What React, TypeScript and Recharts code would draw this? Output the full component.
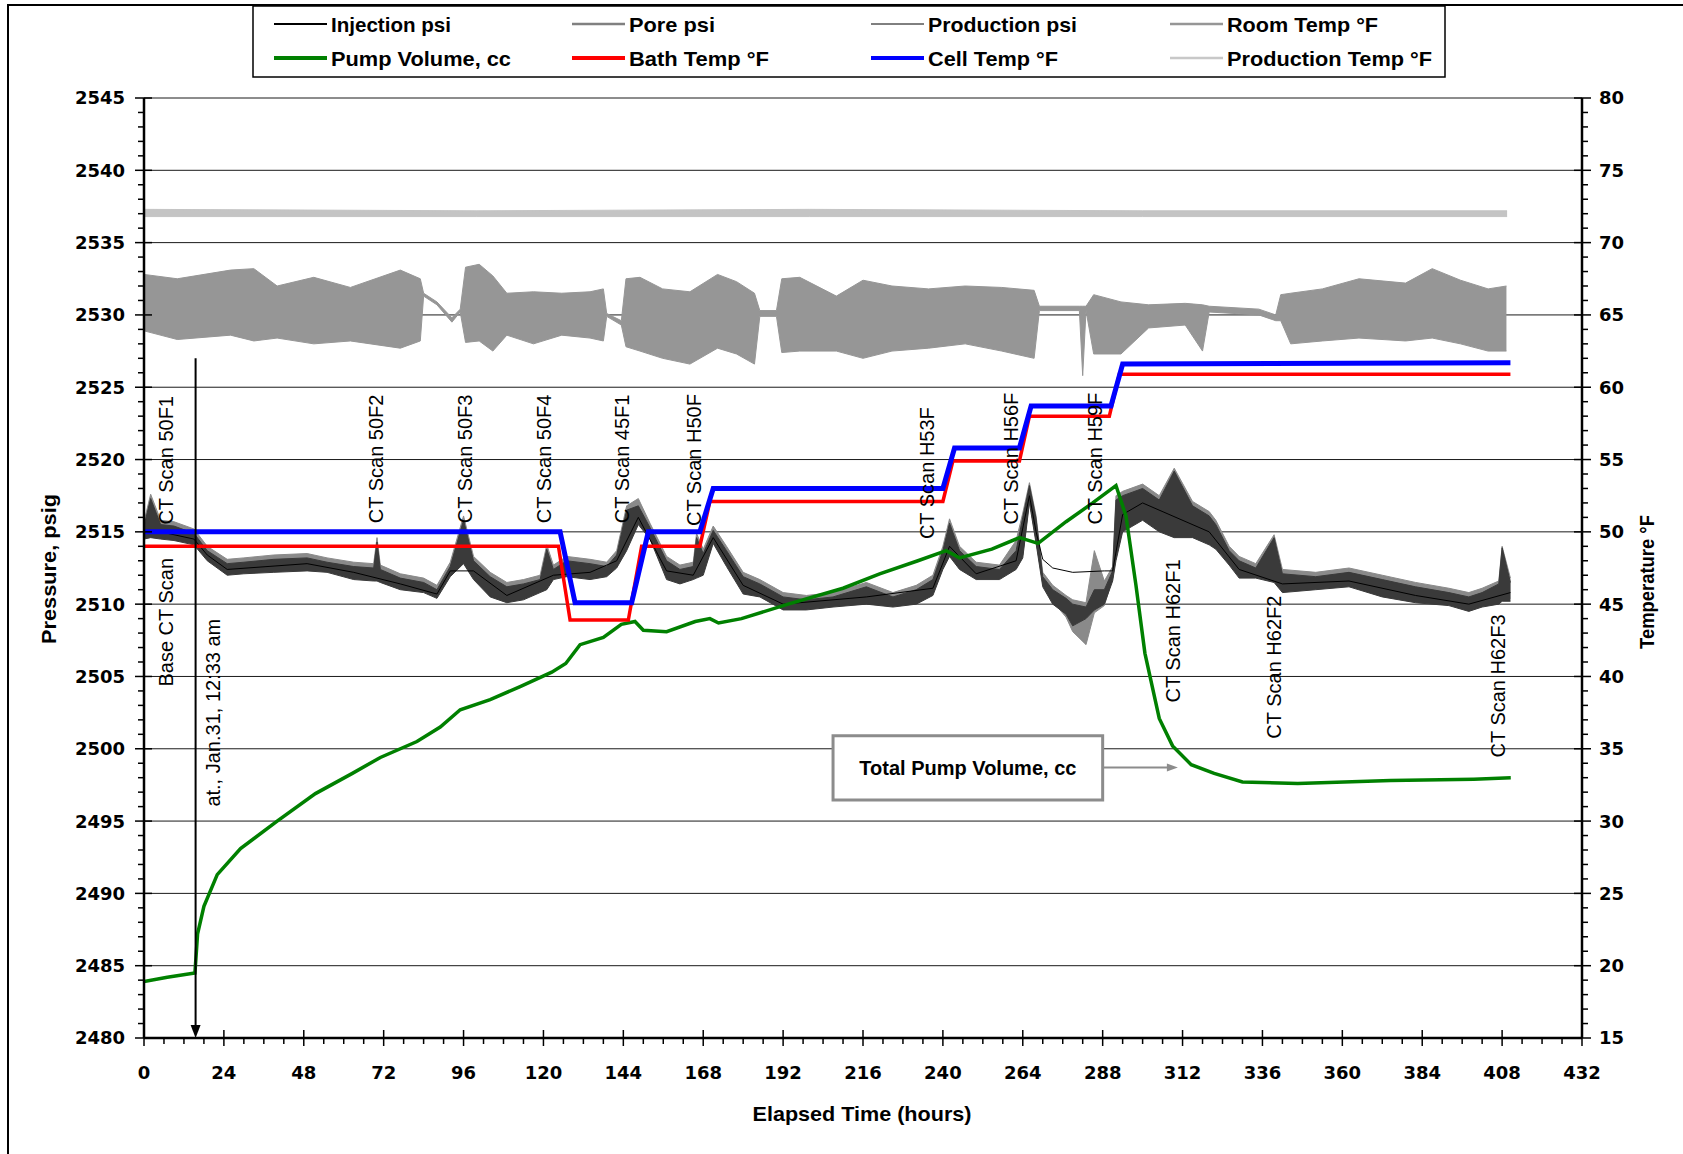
import React from "react";
import {
  ComposedChart,
  Line,
  Area,
  XAxis,
  YAxis,
  CartesianGrid,
  ReferenceLine,
  ReferenceDot,
  ReferenceArea,
} from "recharts";

// ---- axis ticks ----
const hourLabels = [0, 24, 48, 72, 96, 120, 144, 168, 192, 216, 240, 264, 288, 312, 336, 360, 384, 408, 432];
const psiLabels = [2480, 2485, 2490, 2495, 2500, 2505, 2510, 2515, 2520, 2525, 2530, 2535, 2540, 2545];
const tempLabels = [15, 20, 25, 30, 35, 40, 45, 50, 55, 60, 65, 70, 75, 80];
const hourTicks = Array.from({ length: 73 }, (_, i) => i * 6);
const psiTicks = Array.from({ length: 66 }, (_, i) => 2480 + i);
const tempTicks = Array.from({ length: 66 }, (_, i) => 15 + i);

// ---- pressure series, psig: [hour, low, high] ----
const injectionPsi = [
  [0, 2514.5, 2515.4], [2, 2514.6, 2517.3], [5, 2514.5, 2515.5], [9, 2514.4, 2515.4], [15, 2514.1, 2514.9],
  [19, 2513.0, 2513.7], [25, 2512.0, 2512.8], [30, 2512.1, 2512.9], [39, 2512.2, 2513.1], [49, 2512.3, 2513.2],
  [55, 2512.2, 2512.9], [63, 2511.7, 2512.6], [69, 2511.6, 2512.5], [70, 2511.6, 2514.3], [71, 2511.5, 2512.4],
  [77, 2511.0, 2511.8], [84, 2510.8, 2511.5], [88, 2510.4, 2511.0], [92, 2511.9, 2512.6], [96, 2512.8, 2515.8],
  [99, 2511.7, 2513.0], [104, 2510.5, 2511.9], [109, 2510.1, 2511.2], [114, 2510.3, 2511.4], [119, 2510.8, 2511.7],
  [121, 2511.0, 2513.8], [123, 2511.7, 2512.4], [127, 2511.9, 2513.0], [134, 2511.7, 2512.8], [139, 2511.9, 2512.6],
  [142, 2512.5, 2513.4], [145, 2513.7, 2516.5], [148.5, 2515.5, 2516.8], [152, 2514.5, 2515.3], [157, 2511.7, 2513.0],
  [161, 2511.4, 2512.4], [165, 2511.7, 2512.6], [166, 2511.8, 2514.6], [168, 2512.0, 2513.5], [171, 2514.2, 2515.1],
  [175, 2512.6, 2513.7], [180, 2510.7, 2511.9], [185, 2510.5, 2511.4], [192, 2509.6, 2510.5], [199, 2509.6, 2510.3],
  [207, 2509.8, 2510.5], [217, 2510.0, 2511.2], [225, 2509.8, 2510.5], [232, 2510.0, 2511.0], [237, 2510.6, 2511.7],
  [240, 2512.4, 2513.7], [242, 2513.3, 2515.6], [245, 2512.4, 2513.7], [250, 2511.7, 2512.6], [257, 2511.7, 2512.4],
  [262, 2512.4, 2513.7], [264, 2513.2, 2516.0], [266, 2517.0, 2518.2], [268, 2514.2, 2515.9], [270, 2511.2, 2511.9],
  [273, 2510.0, 2511.0], [277, 2509.3, 2510.4], [279, 2508.5, 2510.0], [283, 2509.0, 2509.8], [285.5, 2509.6, 2511.0],
  [288.5, 2510.0, 2511.0], [291, 2511.6, 2512.3], [292, 2513.0, 2517.2], [294, 2515.0, 2517.5], [300, 2515.8, 2518.0],
  [305, 2515.0, 2517.2], [309.5, 2514.6, 2519.2], [315, 2514.6, 2516.8], [320, 2514.1, 2516.1], [322, 2513.8, 2515.5],
  [326, 2512.7, 2513.7], [329, 2511.8, 2513.0], [334, 2511.8, 2512.5], [339.5, 2511.5, 2514.6], [342, 2510.8, 2512.1],
  [352, 2511.0, 2511.9], [362, 2511.2, 2512.2], [372, 2510.5, 2511.7], [382, 2510.1, 2511.2], [392, 2509.9, 2510.8],
  [398, 2509.5, 2510.5], [402, 2509.8, 2510.8], [407, 2510.0, 2511.4], [408, 2510.2, 2513.9], [410.5, 2510.2, 2511.5],
];

const porePsi = [
  [0, 2514.7, 2515.7], [2, 2514.8, 2517.6], [5, 2514.7, 2515.8], [9, 2514.6, 2515.7], [15, 2514.3, 2515.2],
  [19, 2513.2, 2514.0], [25, 2512.2, 2513.1], [30, 2512.3, 2513.2], [39, 2512.4, 2513.4], [49, 2512.5, 2513.5],
  [55, 2512.4, 2513.2], [63, 2511.9, 2512.9], [69, 2511.8, 2512.8], [70, 2511.8, 2514.6], [71, 2511.7, 2512.7],
  [77, 2511.2, 2512.1], [84, 2511.0, 2511.8], [88, 2510.6, 2511.3], [92, 2512.1, 2512.9], [96, 2513.0, 2516.1],
  [99, 2511.9, 2513.3], [104, 2510.7, 2512.2], [109, 2510.3, 2511.5], [114, 2510.5, 2511.7], [119, 2511.0, 2512.0],
  [121, 2511.2, 2514.1], [123, 2511.9, 2512.7], [127, 2512.1, 2513.3], [134, 2511.9, 2513.1], [139, 2512.1, 2512.9],
  [142, 2512.7, 2513.7], [145, 2513.9, 2516.8], [148.5, 2515.6, 2517.3], [152, 2514.7, 2515.6], [157, 2511.9, 2513.3],
  [161, 2511.6, 2512.7], [165, 2511.9, 2512.9], [166, 2512.0, 2514.9], [168, 2512.2, 2513.8], [171, 2514.4, 2515.4],
  [175, 2512.8, 2514.0], [180, 2510.9, 2512.2], [185, 2510.7, 2511.7], [192, 2509.8, 2510.8], [199, 2509.8, 2510.6],
  [207, 2510.0, 2510.8], [217, 2510.2, 2511.5], [225, 2510.0, 2510.8], [232, 2510.2, 2511.3], [237, 2510.8, 2512.0],
  [240, 2512.6, 2514.0], [242, 2513.5, 2515.9], [245, 2512.6, 2514.0], [250, 2511.9, 2512.9], [257, 2511.9, 2512.7],
  [262, 2512.6, 2514.4], [264, 2513.4, 2516.3], [266, 2517.2, 2518.4], [268, 2514.4, 2516.1], [270, 2511.4, 2512.2],
  [273, 2510.2, 2511.3], [277, 2509.1, 2510.6], [279, 2508.1, 2510.3], [283, 2507.2, 2510.1], [285.5, 2509.4, 2513.7],
  [288.5, 2509.9, 2511.6], [291, 2511.8, 2512.6], [292, 2513.2, 2517.5], [294, 2515.2, 2517.8], [300, 2516.0, 2518.3],
  [305, 2515.2, 2517.5], [309.5, 2514.8, 2519.4], [315, 2514.8, 2517.1], [320, 2514.3, 2516.4], [322, 2514.0, 2515.8],
  [326, 2512.9, 2514.0], [329, 2512.0, 2513.3], [334, 2512.0, 2512.8], [339.5, 2511.7, 2514.8], [342, 2511.0, 2512.4],
  [352, 2511.2, 2512.2], [362, 2511.4, 2512.5], [372, 2510.7, 2512.0], [382, 2510.3, 2511.5], [392, 2510.1, 2511.1],
  [398, 2509.7, 2510.8], [402, 2510.0, 2511.1], [407, 2510.2, 2511.6], [408, 2510.4, 2514.0], [410.5, 2510.4, 2511.8],
];

const productionPsi = [
  [0, 2515.0], [5, 2515.0], [15, 2514.5], [19, 2513.4], [25, 2512.4], [49, 2512.8], [63, 2512.2], [77, 2511.4],
  [88, 2510.7], [92, 2512.3], [99, 2512.3], [109, 2510.6], [123, 2512.0], [134, 2512.2], [142, 2513.0], [148.5, 2516.0],
  [157, 2512.3], [165, 2512.0], [171, 2514.6], [180, 2511.3], [192, 2510.0], [217, 2510.5], [237, 2511.1], [242, 2514.0],
  [250, 2512.1], [262, 2513.0], [266, 2517.5], [268, 2515.0], [270, 2513.1], [273, 2512.5], [279, 2512.2], [288.5, 2512.3],
  [291, 2512.3], [294, 2516.2], [300, 2517.0], [320, 2515.0], [329, 2512.4], [342, 2511.4], [362, 2511.6], [382, 2510.6],
  [398, 2510.0], [410.5, 2510.8],
];

// ---- temperature-axis series, deg F ----
const roomTemp = [
  [0, 63.9, 67.8], [10, 63.3, 67.5], [26, 63.6, 68.1], [33, 63.2, 68.2], [40, 63.4, 67.0], [51, 63.0, 67.6],
  [62, 63.2, 66.9], [77, 62.7, 68.1], [83, 63.2, 67.5], [84, 66.3, 66.5], [88, 65.7, 65.9], [92.5, 64.5, 64.8],
  [95, 65.2, 65.4], [96.6, 63.1, 68.3], [100.7, 63.2, 68.5], [104.8, 62.5, 67.7], [109, 63.6, 66.5], [117, 63.0, 66.6],
  [125.5, 63.6, 66.5], [134, 63.4, 66.6], [138, 63.2, 66.8], [139, 64.9, 65.1], [143.4, 64.3, 64.6], [144.8, 62.8, 67.5],
  [149, 62.5, 67.6], [155.8, 62.0, 66.8], [164, 61.6, 66.6], [172.3, 62.7, 67.8], [178, 62.3, 67.3], [183.4, 61.6, 66.5],
  [185, 64.9, 65.3], [190, 64.9, 65.3], [191.6, 62.4, 67.5], [197, 62.5, 67.6], [208, 62.5, 66.3], [216, 62.0, 67.4],
  [224.7, 62.5, 67.0], [235.7, 62.7, 66.8], [246.7, 63.0, 67.0], [257.7, 62.5, 66.9], [267.4, 62.0, 66.7], [269, 65.3, 65.6],
  [281, 65.3, 65.6], [282, 60.8, 65.6], [283, 65.3, 65.6], [285.3, 62.3, 66.4], [293.5, 62.3, 65.9], [301.8, 64.1, 65.7],
  [312.8, 64.3, 65.8], [318, 62.5, 65.7], [320, 65.2, 65.6], [334.9, 65.0, 65.4], [340, 64.6, 65.0], [341.5, 64.6, 66.4],
  [344.5, 63.0, 66.5], [354, 63.2, 66.8], [365, 63.4, 67.5], [379, 63.2, 67.2], [387, 63.4, 68.2], [395.5, 63.0, 67.4],
  [403.8, 62.5, 66.8], [409.3, 62.5, 67.0],
];

const productionTemp = [
  [0, 71.8, 72.3], [100, 71.8, 72.2], [200, 71.8, 72.3], [300, 71.8, 72.2], [409.5, 71.8, 72.2],
];

// pump volume is read against the right-hand scale
const pumpVolume = [
  [0, 18.9], [7, 19.2], [15.3, 19.5], [16.1, 22.2], [18, 24.1], [22, 26.3], [29, 28.1], [40, 30.0], [51.5, 31.9],
  [62.6, 33.3], [71, 34.4], [82, 35.5], [89, 36.5], [95, 37.7], [104, 38.4], [113, 39.3], [122.5, 40.3], [126.7, 40.9],
  [131, 42.2], [138, 42.7], [143.4, 43.6], [147.5, 43.8], [150, 43.2], [157, 43.1], [165.6, 43.8], [170, 44.0],
  [172.6, 43.7], [179.5, 44.0], [193.5, 45.0], [210, 46.1], [221, 47.1], [232.5, 48.0], [241, 48.7], [245, 48.2],
  [254.7, 48.8], [263, 49.6], [268.6, 49.2], [277, 50.7], [285, 52.0], [292, 53.2], [295, 51.1], [298, 46.3],
  [300.7, 41.6], [305, 37.1], [309, 35.2], [314.6, 33.9], [321.5, 33.3], [330, 32.7], [346.6, 32.6], [374.5, 32.8],
  [399.5, 32.9], [410.6, 33.0],
];

const bathTemp = [
  [0, 49.0], [124.5, 49.0], [128, 43.9], [145.5, 43.9], [149.5, 49.0], [167, 49.0], [170, 52.1], [240, 52.1],
  [243, 54.9], [263, 54.9], [266, 58.0], [290, 58.0], [293, 60.9], [410.5, 60.9],
];

const cellTemp = [
  [0, 50.0], [125, 50.0], [129.5, 45.1], [146.5, 45.1], [151.5, 50.0], [167, 50.0], [171, 53.0], [240, 53.0],
  [243.5, 55.8], [263, 55.8], [266.5, 58.7], [290.5, 58.7], [294, 61.6], [410.5, 61.7],
];

// ---- annotations ----
const scanNames = [
  "Base CT Scan", "CT Scan 50F1", "at., Jan.31, 12:33 am", "CT Scan 50F2", "CT Scan 50F3", "CT Scan 50F4",
  "CT Scan 45F1", "CT Scan H50F", "CT Scan H53F", "CT Scan H56F", "CT Scan H59F", "CT Scan H62F1",
  "CT Scan H62F2", "CT Scan H62F3",
];
const scanHours = [6.6, 6.6, 20.6, 69.6, 96.4, 120.2, 143.7, 165.2, 235.2, 260.4, 285.7, 309.1, 339.4, 406.7];
const scanLabelBase = [2504.3, 2515.5, 2496.0, 2515.6, 2515.6, 2515.6, 2515.6, 2515.4, 2514.5, 2515.5, 2515.5, 2503.2, 2500.7, 2499.4];
const startHour = 15.5;

const line2 = (rows: number[][]) => rows.map((r) => ({ h: r[0], v: r[1] }));
const band = (rows: number[][]) => rows.map((r) => ({ h: r[0], v: [r[1], r[2]] }));

const SANS = '"Liberation Sans", Arial, Helvetica, sans-serif';
const tickFont: React.CSSProperties = { fontFamily: '"DejaVu Sans", Verdana, sans-serif', fontWeight: 700, fontSize: 18, fill: "#000" };

const LeftTick = (p: any) => {
  const { x, y, payload } = p;
  const major = payload.value % 5 === 0;
  return (
    <g>
      <line x1={x - (major ? 9 : 6)} x2={x + (major ? 8 : 0)} y1={y} y2={y} stroke="#000" strokeWidth={1.5} />
      {major && (
        <text x={x - 19} y={y} dy="0.36em" textAnchor="end" style={tickFont}>
          {payload.value}
        </text>
      )}
    </g>
  );
};

const RightTick = (p: any) => {
  const { x, y, payload } = p;
  const major = payload.value % 5 === 0;
  return (
    <g>
      <line x1={x - (major ? 8 : 0)} x2={x + (major ? 9 : 6)} y1={y} y2={y} stroke="#000" strokeWidth={1.5} />
      {major && (
        <text x={x + 17} y={y} dy="0.36em" textAnchor="start" style={tickFont}>
          {payload.value}
        </text>
      )}
    </g>
  );
};

const BottomTick = (p: any) => {
  const { x, y, payload } = p;
  const major = payload.value % 24 === 0;
  return (
    <g>
      <line x1={x} x2={x} y1={y - (major ? 8 : 0)} y2={y + (major ? 8 : 6)} stroke="#000" strokeWidth={1.5} />
      {major && (
        <text x={x} y={y + 41} textAnchor="middle" style={tickFont}>
          {payload.value}
        </text>
      )}
    </g>
  );
};

const DownArrow = (p: any) => {
  const { x1, y1, x2, y2 } = p;
  return (
    <g>
      <line x1={x1} y1={y1} x2={x2} y2={y2 - 8} stroke="#000" strokeWidth={2} />
      <polygon points={`${x2 - 5},${y2 - 13} ${x2 + 5},${y2 - 13} ${x2},${y2}`} fill="#000" />
    </g>
  );
};

const RightArrow = (p: any) => {
  const { x1, y1, x2, y2 } = p;
  return (
    <g>
      <line x1={x1} y1={y1} x2={x2 - 8} y2={y2} stroke="#8c8c8c" strokeWidth={2} />
      <polygon points={`${x2 - 11},${y2 - 4} ${x2 - 11},${y2 + 4} ${x2},${y2}`} fill="#8c8c8c" />
    </g>
  );
};

const legendItems = [
  { name: "Injection psi", color: "#000000", sw: 2, len: 120 },
  { name: "Pore psi", color: "#808080", sw: 2.5, len: 86 },
  { name: "Production psi", color: "#000000", sw: 1, len: 149 },
  { name: "Room Temp °F", color: "#969696", sw: 2.5, len: 151 },
  { name: "Pump Volume, cc", color: "#008000", sw: 4, len: 180 },
  { name: "Bath Temp °F", color: "#ff0000", sw: 4, len: 140 },
  { name: "Cell Temp °F", color: "#0000ff", sw: 4, len: 130 },
  { name: "Production Temp °F", color: "#c8c8c8", sw: 2.5, len: 205 },
];
const legendCols = [274, 572, 871, 1170];
const legendRows = [24, 58];

export default function App() {
  return (
    <div style={{ position: "absolute", left: 0, top: 0, width: 1683, height: 1154, background: "#fff", overflow: "hidden" }}>
      <ComposedChart width={1683} height={1154} margin={{ top: 98, right: 0, bottom: 0, left: 0 }}>
        <CartesianGrid yAxisId="psi" vertical={false} horizontalValues={psiLabels} stroke="#1a1a1a" strokeWidth={1} />
        <XAxis
          dataKey="h"
          type="number"
          domain={[0, 432]}
          allowDataOverflow
          ticks={hourTicks}
          interval={0}
          tickSize={0}
          tickMargin={0}
          tickLine={false}
          tick={(p: any) => <BottomTick {...p} />}
          height={116}
          axisLine={{ stroke: "#000", strokeWidth: 2.5 }}
        />
        <YAxis
          yAxisId="psi"
          orientation="left"
          width={144}
          type="number"
          domain={[2480, 2545]}
          allowDataOverflow
          ticks={psiTicks}
          interval={0}
          tickSize={0}
          tickMargin={0}
          tickLine={false}
          tick={(p: any) => <LeftTick {...p} />}
          axisLine={{ stroke: "#000", strokeWidth: 2.5 }}
        />
        <YAxis
          yAxisId="temp"
          orientation="right"
          width={101}
          type="number"
          domain={[15, 80]}
          allowDataOverflow
          ticks={tempTicks}
          interval={0}
          tickSize={0}
          tickMargin={0}
          tickLine={false}
          tick={(p: any) => <RightTick {...p} />}
          axisLine={{ stroke: "#000", strokeWidth: 2.5 }}
        />

        <Area yAxisId="psi" data={band(porePsi)} dataKey="v" type="linear" stroke="#8a8a8a" strokeWidth={1} fill="#8a8a8a" fillOpacity={1} dot={false} activeDot={false} isAnimationActive={false} />
        <Area yAxisId="psi" data={band(injectionPsi)} dataKey="v" type="linear" stroke="#3a3a3a" strokeWidth={1} fill="#3a3a3a" fillOpacity={1} dot={false} activeDot={false} isAnimationActive={false} />
        <Line yAxisId="psi" data={line2(productionPsi)} dataKey="v" type="linear" stroke="#000" strokeWidth={1} dot={false} activeDot={false} isAnimationActive={false} />
        <Area yAxisId="temp" data={band(roomTemp)} dataKey="v" type="linear" stroke="#969696" strokeWidth={1} fill="#969696" fillOpacity={1} dot={false} activeDot={false} isAnimationActive={false} />
        <Line yAxisId="temp" data={line2(pumpVolume)} dataKey="v" type="linear" stroke="#008000" strokeWidth={3.5} dot={false} activeDot={false} isAnimationActive={false} />
        <Line yAxisId="temp" data={line2(bathTemp)} dataKey="v" type="linear" stroke="#ff0000" strokeWidth={3.5} dot={false} activeDot={false} isAnimationActive={false} />
        <Line yAxisId="temp" data={line2(cellTemp)} dataKey="v" type="linear" stroke="#0000ff" strokeWidth={5} dot={false} activeDot={false} isAnimationActive={false} />
        <Area yAxisId="temp" data={band(productionTemp)} dataKey="v" type="linear" stroke="#c4c4c4" strokeWidth={1} fill="#c4c4c4" fillOpacity={1} dot={false} activeDot={false} isAnimationActive={false} />

        <ReferenceLine
          yAxisId="psi"
          segment={[{ x: startHour, y: 2527 }, { x: startHour, y: 2480 }]}
          ifOverflow="visible"
          shape={(p: any) => <DownArrow {...p} />}
        />

        {scanNames.map((name, i) => (
          <ReferenceDot
            key={name}
            yAxisId="psi"
            x={scanHours[i]}
            y={scanLabelBase[i]}
            r={0}
            ifOverflow="visible"
            shape={(p: any) => (
              <text
                transform={`translate(${p.cx},${p.cy}) rotate(-90)`}
                textAnchor="start"
                dominantBaseline="central"
                style={{ fontFamily: SANS, fontSize: 20, fill: "#000" }}
              >
                {name}
              </text>
            )}
          />
        ))}

        <ReferenceArea yAxisId="psi" x1={207} x2={288} y1={2496.45} y2={2500.9} fill="#fff" fillOpacity={1} stroke="#8c8c8c" strokeWidth={3} ifOverflow="visible" />
        <ReferenceLine
          yAxisId="psi"
          segment={[{ x: 288, y: 2498.7 }, { x: 310.6, y: 2498.7 }]}
          ifOverflow="visible"
          shape={(p: any) => <RightArrow {...p} />}
        />
        <ReferenceDot
          yAxisId="psi"
          x={247.5}
          y={2498.7}
          r={0}
          ifOverflow="visible"
          shape={(p: any) => (
            <text x={p.cx} y={p.cy} textAnchor="middle" dominantBaseline="central" style={{ fontFamily: SANS, fontSize: 20, fontWeight: 700, fill: "#000" }}>
              Total Pump Volume, cc
            </text>
          )}
        />
      </ComposedChart>

      <svg width={1683} height={1154} style={{ position: "absolute", left: 0, top: 0, pointerEvents: "none" }}>
        <path d="M8,1154 L8,5 L1683,5" stroke="#000" strokeWidth={2} fill="none" />
        <rect x={253} y={6} width={1192} height={71} fill="#fff" stroke="#000" strokeWidth={1.5} />
        {legendItems.map((it, i) => {
          const cx = legendCols[i % 4];
          const cy = legendRows[Math.floor(i / 4)];
          return (
            <g key={it.name}>
              <line x1={cx} x2={cx + 53} y1={cy} y2={cy} stroke={it.color} strokeWidth={it.sw} />
              <text
                x={cx + 57}
                y={cy}
                dy="0.36em"
                textLength={it.len}
                lengthAdjust="spacingAndGlyphs"
                style={{ fontFamily: SANS, fontWeight: 700, fontSize: 21, fill: "#000" }}
              >
                {it.name}
              </text>
            </g>
          );
        })}
        <text
          transform="translate(49,569) rotate(-90)"
          textAnchor="middle"
          dominantBaseline="central"
          textLength={150}
          lengthAdjust="spacingAndGlyphs"
          style={{ fontFamily: SANS, fontWeight: 700, fontSize: 20, fill: "#000" }}
        >
          Pressure, psig
        </text>
        <text
          transform="translate(1647,582) rotate(-90)"
          textAnchor="middle"
          dominantBaseline="central"
          textLength={134}
          lengthAdjust="spacingAndGlyphs"
          style={{ fontFamily: SANS, fontWeight: 700, fontSize: 20, fill: "#000" }}
        >
          Temperature °F
        </text>
        <text
          x={862}
          y={1113}
          textAnchor="middle"
          dominantBaseline="central"
          textLength={219}
          lengthAdjust="spacingAndGlyphs"
          style={{ fontFamily: SANS, fontWeight: 700, fontSize: 21, fill: "#000" }}
        >
          Elapsed Time (hours)
        </text>
      </svg>
    </div>
  );
}
